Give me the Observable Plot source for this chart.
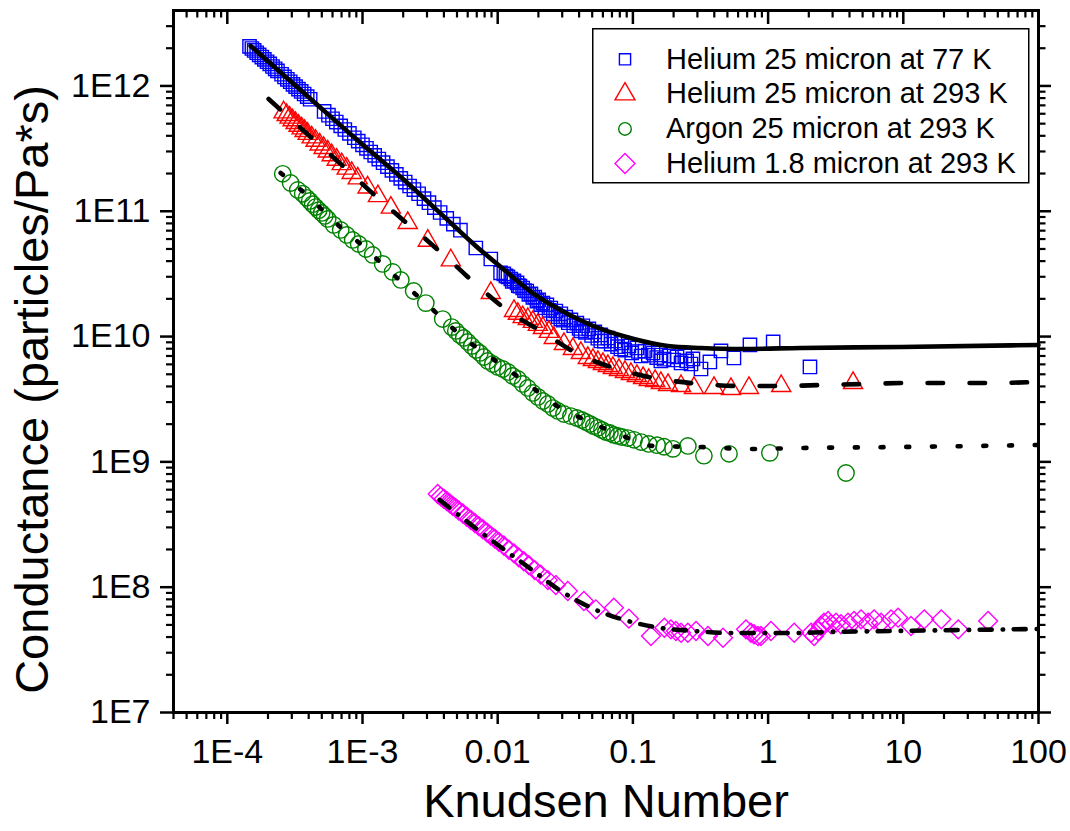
<!DOCTYPE html>
<html>
<head>
<meta charset="utf-8">
<script src="https://cdn.jsdelivr.net/npm/d3@7"></script>
<script src="https://cdn.jsdelivr.net/npm/@observablehq/plot@0.6"></script>
<style>
  html, body { margin: 0; padding: 0; background: #fff; }
  #chart { position: relative; width: 1070px; height: 831px; font-family: "Liberation Sans", Arial, sans-serif; }
  #chart svg { display: block; }
  #legend { position: absolute; left: 592px; top: 28px; }
</style>
</head>
<body>
<div id="chart"></div>
<script>
// ---- Axis ticks and labels ----
const xMajor = [1e-4, 1e-3, 0.01, 0.1, 1, 10, 100];
const xMajorLabels = ["1E-4", "1E-3", "0.01", "0.1", "1", "10", "100"];
const yMajor = [1e7, 1e8, 1e9, 1e10, 1e11, 1e12];
const yMajorLabels = ["1E7", "1E8", "1E9", "1E10", "1E11", "1E12"];
const xDomain = [4e-5, 100];
const yDomain = [1e7, 4e12];

// ---- Measured conductance: [Knudsen number, particles/(Pa*s)] ----
const heliumCold25 = [
  [1.46e-4,2.07e12],[1.52e-4,1.99e12],[1.58e-4,1.92e12],[1.65e-4,1.84e12],[1.72e-4,1.77e12],[1.80e-4,1.70e12],
  [1.88e-4,1.63e12],[1.97e-4,1.56e12],[2.06e-4,1.50e12],[2.16e-4,1.43e12],[2.26e-4,1.37e12],[2.35e-4,1.32e12],
  [2.52e-4,1.24e12],[2.65e-4,1.18e12],[2.78e-4,1.13e12],[2.92e-4,1.08e12],[3.06e-4,1.03e12],[3.20e-4,9.88e11],
  [3.36e-4,9.44e11],[3.52e-4,9.04e11],[3.70e-4,8.62e11],[3.90e-4,8.21e11],[4.10e-4,7.83e11],
  [5.2e-4,6.26e11],[5.6e-4,5.84e11],[6.0e-4,5.47e11],[6.4e-4,5.15e11],[6.9e-4,4.80e11],[7.4e-4,4.49e11],[8.0e-4,4.18e11],
  [8.7e-4,3.86e11],[9.3e-4,3.63e11],[1.0e-3,3.39e11],[1.07e-3,3.18e11],[1.15e-3,2.97e11],[1.23e-3,2.79e11],
  [1.32e-3,2.61e11],[1.42e-3,2.44e11],[1.53e-3,2.27e11],[1.65e-3,2.12e11],[1.78e-3,1.97e11],[1.92e-3,1.83e11],
  [2.07e-3,1.71e11],[2.23e-3,1.59e11],[2.40e-3,1.49e11],
  [2.6e-3,1.38e11],[2.85e-3,1.26e11],[3.1e-3,1.17e11],[3.4e-3,1.07e11],[3.75e-3,9.77e10],[4.2e-3,8.78e10],
  [4.7e-3,7.90e10],[5.3e-3,7.06e10],
  [6.89e-3,5.09e10],[8.89e-3,4.16e10],[1.05e-2,3.22e10],[1.11e-2,3.16e10],[1.15e-2,3.05e10],[1.19e-2,2.99e10],
  [1.25e-2,2.88e10],[1.28e-2,2.75e10],[1.32e-2,2.78e10],[1.39e-2,2.68e10],[1.42e-2,2.55e10],[1.46e-2,2.53e10],
  [1.53e-2,2.44e10],[1.58e-2,2.33e10],[1.64e-2,2.31e10],[1.70e-2,2.17e10],[1.76e-2,2.19e10],[1.82e-2,2.05e10],
  [1.88e-2,2.07e10],[1.95e-2,1.92e10],[2.01e-2,1.96e10],[2.08e-2,1.80e10],[2.16e-2,1.85e10],[2.24e-2,1.70e10],
  [2.31e-2,1.79e10],[2.40e-2,1.62e10],[2.47e-2,1.69e10],[2.58e-2,1.52e10],[2.69e-2,1.60e10],[2.80e-2,1.44e10],
  [2.93e-2,1.52e10],[2.93e-2,1.38e10],[3.05e-2,1.35e10],[3.19e-2,1.43e10],[3.33e-2,1.29e10],[3.48e-2,1.36e10],
  [3.65e-2,1.22e10],[3.85e-2,1.28e10],[4.0e-2,1.16e10],[4.12e-2,1.11e10],[4.26e-2,1.22e10],[4.45e-2,1.08e10],
  [4.72e-2,1.15e10],[4.95e-2,1.02e10],[5.23e-2,1.09e10],[5.5e-2,9.7e9],[5.79e-2,1.03e10],[5.79e-2,9.22e9],
  [6.15e-2,9.2e9],[6.53e-2,9.74e9],[6.9e-2,8.7e9],[7.36e-2,9.22e9],[7.7e-2,8.3e9],[8.15e-2,7.96e9],
  [8.29e-2,8.89e9],[8.7e-2,7.8e9],[9.34e-2,8.41e9],[9.8e-2,7.4e9],[0.107,8.11e9],[0.11,7.6e9],[0.115,7.00e9],
  [0.123,7.67e9],[0.13,7.1e9],[0.141,7.40e9],[0.15,6.8e9],[0.161,7.13e9],[0.161,6.39e9],[0.17,6.6e9],
  [0.185,7.00e9],[0.2,6.5e9],[0.212,6.88e9],[0.227,6.16e9],[0.242,7.00e9],[0.25,6.4e9],[0.269,6.04e9],
  [0.278,6.63e9],[0.319,5.51e9],[0.371,6.27e9],[0.448,7.68e9],[0.559,6.75e9],[0.734,8.57e9],[1.09,9.06e9],
  [2.04,5.72e9]
];

const heliumWarm25 = [
  [2.61e-4,6.16e11],[2.75e-4,5.86e11],[2.89e-4,5.59e11],[3.04e-4,5.32e11],[3.20e-4,5.06e11],[3.37e-4,4.81e11],
  [3.55e-4,4.59e11],[3.73e-4,4.37e11],[3.93e-4,4.15e11],[4.21e-4,3.89e11],[4.50e-4,3.65e11],[4.82e-4,3.41e11],
  [5.16e-4,3.20e11],[5.53e-4,3.00e11],[5.92e-4,2.80e11],[6.44e-4,2.58e11],[7.02e-4,2.38e11],[7.64e-4,2.19e11],
  [8.32e-4,2.02e11],[9.22e-4,1.83e11],[1.09e-3,1.55e11],[1.30e-3,1.32e11],[1.62e-3,1.07e11],[2.16e-3,8.07e10],
  [3.04e-3,5.82e10],[4.50e-3,4.06e10],[8.89e-3,2.23e10],
  [1.32e-2,1.60e10],[1.41e-2,1.52e10],[1.53e-2,1.43e10],[1.67e-2,1.38e10],[1.82e-2,1.31e10],[1.98e-2,1.24e10],
  [2.16e-2,1.17e10],[2.39e-2,1.09e10],[2.60e-2,9.75e9],[3.09e-2,8.73e9],[3.60e-2,7.96e9],[4.12e-2,7.40e9],
  [4.64e-2,6.75e9],[5.06e-2,6.51e9],[5.51e-2,6.27e9],[6.00e-2,6.04e9],[6.53e-2,5.83e9],[7.11e-2,5.62e9],
  [7.88e-2,5.41e9],[8.73e-2,5.22e9],[9.67e-2,5.03e9],[0.107,4.85e9],[0.119,4.67e9],[0.131,4.50e9],
  [0.146,4.42e9],[0.161,4.26e9],[0.182,4.11e9],[0.227,4.03e9],[0.283,3.89e9],[0.398,3.89e9],[0.531,3.82e9],
  [0.722,3.89e9],[1.25,4.03e9],[4.25,4.26e9]
];

const argonWarm25 = [
  [2.57e-4,1.99e11],[2.94e-4,1.68e11],[3.32e-4,1.48e11],[3.61e-4,1.38e11],[3.86e-4,1.28e11],[4.07e-4,1.21e11],
  [4.28e-4,1.14e11],[4.50e-4,1.08e11],[4.74e-4,1.02e11],[4.99e-4,9.69e10],[5.25e-4,9.17e10],[5.53e-4,8.68e10],
  [6.12e-4,7.78e10],[6.90e-4,7.09e10],[7.64e-4,6.47e10],[8.46e-4,5.90e10],[9.37e-4,5.48e10],[1.06e-3,5.00e10],
  [1.19e-3,4.48e10],[1.41e-3,3.80e10],[1.67e-3,3.28e10],[1.92e-3,2.83e10],[2.39e-3,2.31e10],[2.94e-3,1.85e10],
  [3.92e-3,1.38e10],[4.57e-3,1.19e10],[4.90e-3,1.11e10],[5.24e-3,1.03e10],[5.61e-3,9.75e9],[6.01e-3,9.06e9],
  [6.43e-3,8.41e9],[6.89e-3,7.82e9],[7.38e-3,7.40e9],[7.90e-3,6.87e9],[8.45e-3,6.39e9],[9.20e-3,6.04e9],
  [1.00e-2,5.72e9],[1.09e-2,5.51e9],[1.19e-2,5.22e9],[1.29e-2,4.85e9],[1.41e-2,4.59e9],[1.53e-2,4.19e9],
  [1.67e-2,3.89e9],[1.82e-2,3.55e9],[1.98e-2,3.30e9],[2.16e-2,3.06e9],[2.35e-2,2.90e9],[2.56e-2,2.69e9],
  [2.79e-2,2.55e9],[3.09e-2,2.41e9],[3.48e-2,2.32e9],[3.85e-2,2.24e9],[4.19e-2,2.16e9],[4.49e-2,2.08e9],
  [4.81e-2,2.01e9],[5.14e-2,1.93e9],[5.51e-2,1.87e9],[5.90e-2,1.80e9],[6.31e-2,1.73e9],[6.76e-2,1.70e9],
  [7.23e-2,1.64e9],[7.75e-2,1.61e9],[8.29e-2,1.58e9],[9.18e-2,1.55e9],[0.102,1.50e9],[0.115,1.44e9],
  [0.131,1.39e9],[0.151,1.36e9],[0.170,1.32e9],[0.198,1.27e9],[0.255,1.34e9],[0.335,1.12e9],[0.514,1.16e9],
  [1.03,1.18e9],[3.77,8.15e8]
];

const heliumWarm18 = [
  [3.60e-3,5.54e8],[3.79e-3,5.30e8],[3.99e-3,5.08e8],[4.20e-3,4.87e8],[4.42e-3,4.66e8],[4.65e-3,4.46e8],
  [4.90e-3,4.28e8],[5.15e-3,4.09e8],[5.52e-3,3.87e8],[5.91e-3,3.65e8],[6.33e-3,3.44e8],[6.77e-3,3.25e8],
  [7.25e-3,3.07e8],[7.76e-3,2.90e8],[8.31e-3,2.74e8],[8.89e-3,2.58e8],[9.52e-3,2.44e8],[1.02e-2,2.30e8],
  [1.11e-2,2.15e8],[1.21e-2,1.99e8],[1.32e-2,1.86e8],[1.43e-2,1.73e8],[1.56e-2,1.61e8],[1.70e-2,1.50e8],
  [1.88e-2,1.37e8],[2.08e-2,1.26e8],[2.35e-2,1.14e8],[2.69e-2,1.04e8],[3.30e-2,9.33e7],[4.34e-2,7.76e7],
  [5.32e-2,6.66e7],[7.23e-2,6.86e7],[9.34e-2,5.61e7],
  [0.136,4.08e7],[0.171,4.75e7],[0.191,4.61e7],[0.208,4.47e7],[0.227,4.33e7],[0.255,4.33e7],[0.293,4.47e7],
  [0.359,4.08e7],[0.464,3.95e7],[0.686,4.61e7],[0.747,4.33e7],[0.787,4.21e7],[0.842,4.08e7],[0.886,4.08e7],
  [1.05,4.47e7],[1.56,4.33e7],[2.08,4.33e7],[2.19,4.08e7],[2.34,4.47e7],[2.46,4.90e7],[2.59,5.21e7],
  [2.78,5.37e7],[2.92,5.06e7],[3.18,5.21e7],[3.46,5.06e7],[3.90,5.21e7],[4.32,5.37e7],[4.87,5.54e7],
  [5.49,5.21e7],[6.08,5.54e7],[6.85,5.21e7],[8.12,5.54e7],[9.15,5.71e7],[11.4,4.90e7],[14.3,5.54e7],
  [19.1,5.54e7],[25.5,4.61e7],[42.4,5.37e7]
];

// ---- Model curves fitted to each data set ----
const fitHeliumCold25 = [
  [1.488e-4,2.085e12],[4.135e-4,7.87e11],[9.70e-4,3.51e11],[1.918e-3,1.878e11],[4.497e-3,8.07e10],
  [6.89e-3,5.29e10],[1.054e-2,3.59e10],[1.851e-2,2.19e10],[3.303e-2,1.515e10],[5.795e-2,1.15e10],
  [0.1017,9.57e9],[0.1815,8.41e9],[0.3186,8.11e9],[0.630,7.96e9],[1.752,8.11e9],[9.63,8.26e9],[100,8.57e9]
];
const fitHeliumWarm25 = [
  [2.021e-4,7.874e11],[3.488e-4,4.622e11],[6.898e-4,2.385e11],[1.296e-3,1.277e11],[1.918e-3,8.843e10],
  [3.039e-3,5.794e10],[4.733e-3,3.797e10],[7.124e-3,2.534e10],[1.25e-2,1.543e10],[2.084e-2,1.108e10],
  [3.916e-2,7.262e9],[7.234e-2,5.615e9],[0.143,4.673e9],[0.3185,4.185e9],[0.63,4.034e9],[1.311,4.034e9],
  [2.593,4.109e9],[5.128,4.185e9],[10.85,4.263e9],[21.46,4.263e9],[44.66,4.263e9],[100,4.342e9]
];
const fitArgonWarm25 = [
  [2.48e-4,2.022e11],[3.929e-4,1.325e11],[6.331e-4,8.066e10],[1.0035e-3,5.287e10],[1.673e-3,3.16e10],
  [3.09e-3,1.755e10],[5.613e-3,9.745e9],[9.68e-3,6.387e9],[1.67e-2,4.185e9],[2.602e-2,2.898e9],
  [4.265e-2,2.20e9],[7.485e-2,1.701e9],[0.143,1.339e9],[0.3079,1.315e9],[0.7222,1.268e9],[1.752,1.291e9],
  [9.632,1.315e9],[100,1.364e9]
];
const fitHeliumWarm18 = [
  [3.727e-3,4.966e8],[8.165e-3,2.563e8],[1.758e-2,1.398e8],[2.931e-2,9.327e7],[5.144e-2,6.699e7],
  [9.183e-2,5.373e7],[0.1612,4.727e7],[0.2828,4.471e7],[0.5049,4.31e7],[0.8862,4.31e7],[1.555,4.31e7],
  [2.776,4.389e7],[8.55,4.471e7],[26.78,4.553e7],[100,4.637e7]
];

// Open diamond drawn as a square turned 45 degrees
const openDiamond = {
  draw(context, size) {
    const h = Math.sqrt(size) * 0.62625;
    context.moveTo(0, -h); context.lineTo(h, 0); context.lineTo(0, h); context.lineTo(-h, 0); context.closePath();
  }
};

const series = [
  {name: "Helium 25 micron at 77 K", points: heliumCold25, symbol: "square", color: "#0000ff", r: 7.5,
   legendType: d3.symbolSquare, legendSize: 125},
  {name: "Helium 25 micron at 293 K", points: heliumWarm25, symbol: "triangle", color: "#ff0000", r: 7.1,
   legendType: d3.symbolTriangle, legendSize: 173},
  {name: "Argon 25 micron at 293 K", points: argonWarm25, symbol: "circle", color: "#008000", r: 8.2,
   legendType: d3.symbolCircle, legendSize: 125},
  {name: "Helium 1.8 micron at 293 K", points: heliumWarm18, symbol: openDiamond, color: "#ff00ff", r: 8.5,
   legendType: openDiamond, legendSize: 255}
];

const fits = [
  {points: fitHeliumCold25, dash: null},
  {points: fitHeliumWarm25, dash: "15.5,26.5"},
  {points: fitArgonWarm25, dash: "3,22.7"},
  {points: fitHeliumWarm18, dash: "12,11,0.5,10.5"}
];

// Minor ticks at 2..9 within each decade
const xMinor = [];
for (let e = -5; e <= 1; e++) for (let m = 2; m <= 9; m++) {
  const v = m * Math.pow(10, e);
  if (v >= xDomain[0] && v < xDomain[1]) xMinor.push(v);
}
const yMinor = [];
for (let e = 7; e <= 12; e++) for (let m = 2; m <= 9; m++) {
  const v = m * Math.pow(10, e);
  if (v > yDomain[0] && v < yDomain[1]) yMinor.push(v);
}

const xLabelOf = new Map(xMajor.map((v, i) => [v, xMajorLabels[i]]));
const yLabelOf = new Map(yMajor.map((v, i) => [v, yMajorLabels[i]]));
const rows = (pairs) => pairs.map(([kn, g]) => ({kn, g}));
const blank = () => "";
const tickFont = 34;
const titleFont = 47;

const marks = [];
for (const s of series) {
  marks.push(Plot.dot(rows(s.points), {
    x: "kn", y: "g", symbol: s.symbol, r: s.r, stroke: s.color, strokeWidth: 1.4, fill: "none"
  }));
}
for (const f of fits) {
  marks.push(Plot.line(rows(f.points), {
    x: "kn", y: "g", stroke: "black", strokeWidth: 4.6, strokeDasharray: f.dash,
    strokeLinecap: "round", curve: "monotone-x"
  }));
}
marks.push(
  Plot.frame({stroke: "black", strokeWidth: 3}),
  // bottom axis
  Plot.axisX({ticks: xMajor, anchor: "bottom", tickSize: 12, tickPadding: 14, strokeWidth: 2.5,
    fontSize: tickFont, tickFormat: d => xLabelOf.get(d), label: null}),
  Plot.axisX({ticks: xMinor, anchor: "bottom", tickSize: 7, strokeWidth: 2.2, tickFormat: blank, label: null}),
  // top axis, ticks pointing inward
  Plot.axisX({ticks: xMajor, anchor: "top", tickSize: 13, dy: 13, strokeWidth: 2.5, tickFormat: blank, label: null}),
  Plot.axisX({ticks: xMinor, anchor: "top", tickSize: 6.5, dy: 6.5, strokeWidth: 2.2, tickFormat: blank, label: null}),
  // left axis
  Plot.axisY({ticks: yMajor, anchor: "left", tickSize: 13, tickPadding: 10, strokeWidth: 2.5,
    fontSize: tickFont, tickFormat: d => yLabelOf.get(d), label: null}),
  Plot.axisY({ticks: yMinor, anchor: "left", tickSize: 7, strokeWidth: 2.2, tickFormat: blank, label: null}),
  // right axis
  Plot.axisY({ticks: yMajor, anchor: "right", tickSize: 12, strokeWidth: 2.5, tickFormat: blank, label: null}),
  Plot.axisY({ticks: yMinor, anchor: "right", tickSize: 6.5, strokeWidth: 2.2, tickFormat: blank, label: null}),
  // axis titles
  Plot.text(["Conductance (particles/Pa*s)"], {text: d => d, frameAnchor: "left", dx: -141, dy: 28,
    rotate: -90, fontSize: titleFont, textAnchor: "middle", lineAnchor: "middle", fill: "black"}),
  Plot.text(["Knudsen Number"], {text: d => d, frameAnchor: "bottom", dy: 89,
    fontSize: titleFont, textAnchor: "middle", lineAnchor: "middle", fill: "black"})
);

const chart = Plot.plot({
  width: 1070,
  height: 831,
  marginLeft: 173,
  marginRight: 32,
  marginTop: 10,
  marginBottom: 119,
  style: {fontFamily: "'Liberation Sans', Arial, sans-serif", background: "white", color: "black"},
  x: {type: "log", domain: xDomain, label: null},
  y: {type: "log", domain: yDomain, label: null},
  marks
});

const root = document.getElementById("chart");
root.appendChild(chart);

// Legend box in the upper right of the plot area
const legend = d3.create("svg")
  .attr("id", "legend")
  .attr("width", 438)
  .attr("height", 156);
legend.append("rect")
  .attr("x", 0.75).attr("y", 0.75).attr("width", 436).attr("height", 154)
  .attr("fill", "white").attr("stroke", "black").attr("stroke-width", 1.5);
const rowCenters = [31.3, 66.1, 100.9, 135.6];
series.forEach((s, i) => {
  const g = legend.append("g").attr("transform", `translate(33,${rowCenters[i]})`);
  g.append("path")
    .attr("d", d3.symbol(s.legendType, s.legendSize)())
    .attr("fill", "none").attr("stroke", s.color).attr("stroke-width", 1.4);
  legend.append("text")
    .attr("x", 74).attr("y", rowCenters[i] + 9.3)
    .attr("font-family", "'Liberation Sans', Arial, sans-serif")
    .attr("font-size", 29).attr("fill", "black")
    .text(s.name);
});
root.appendChild(legend.node());
</script>
</body>
</html>
